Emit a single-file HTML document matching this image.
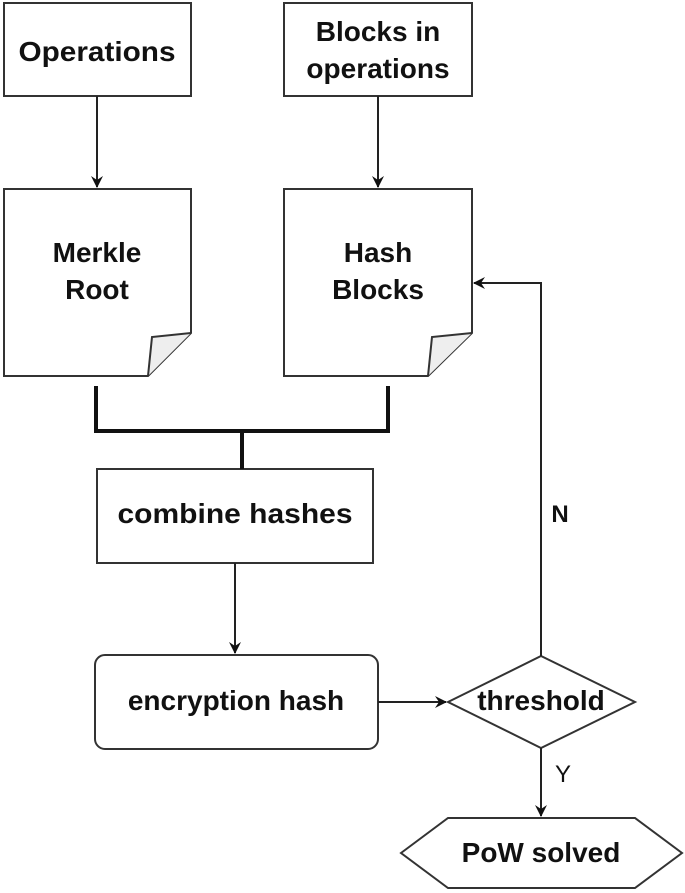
<!DOCTYPE html>
<html><head><meta charset="utf-8"><style>
html,body{margin:0;padding:0;background:#fff;}
svg{display:block}
text{font-family:"Liberation Sans",Arial,sans-serif;font-weight:bold;font-size:28px;fill:#111;text-anchor:middle}
</style></head><body>
<svg width="685" height="893" viewBox="0 0 685 893" xmlns="http://www.w3.org/2000/svg">
<defs>
<marker id="ah" markerWidth="12" markerHeight="12" refX="11" refY="6" orient="auto" markerUnits="userSpaceOnUse">
<path d="M0,0 L12,6 L0,12 L4,6 Z" fill="#111"/>
</marker>
</defs>
<g fill="#fff" stroke="#333" stroke-width="2">
<rect x="4" y="3" width="187" height="93"/>
<rect x="284" y="3" width="188" height="93"/>
<path d="M4,189 H191 V333 L148,376 H4 Z"/>
<path d="M148,376 L152,337 L191,333" fill="#eee"/>
<path d="M284,189 H472 V333 L428,376 H284 Z"/>
<path d="M428,376 L432,337 L472,333" fill="#eee"/>
<rect x="97" y="469" width="276" height="94"/>
<rect x="95" y="655" width="283" height="94" rx="10"/>
<path d="M448,702 L541,656 L635,702 L541,748 Z"/>
<path d="M401,853 L448,818 H635 L682,853 L635,888 H448 Z"/>
</g>
<g fill="none" stroke="#222" stroke-width="2">
<line x1="97" y1="96" x2="97" y2="187" marker-end="url(#ah)"/>
<line x1="378" y1="96" x2="378" y2="187" marker-end="url(#ah)"/>
<line x1="235" y1="563" x2="235" y2="653" marker-end="url(#ah)"/>
<line x1="378" y1="702" x2="446" y2="702" marker-end="url(#ah)"/>
<line x1="541" y1="748" x2="541" y2="816" marker-end="url(#ah)"/>
<polyline points="541,656 541,283 474,283" marker-end="url(#ah)"/>
</g>
<g fill="none" stroke="#111" stroke-width="4">
<polyline points="96,386 96,431 388,431 388,386"/>
<line x1="242" y1="431" x2="242" y2="469"/>
</g>
<text x="97" y="61" textLength="157" lengthAdjust="spacingAndGlyphs">Operations</text>
<text x="378" y="41">Blocks in</text>
<text x="378" y="78">operations</text>
<text x="97" y="262">Merkle</text>
<text x="97" y="299">Root</text>
<text x="378" y="262">Hash</text>
<text x="378" y="299">Blocks</text>
<text x="235" y="523" textLength="235" lengthAdjust="spacingAndGlyphs">combine hashes</text>
<text x="236" y="710">encryption hash</text>
<text x="541" y="710">threshold</text>
<text x="541" y="862">PoW solved</text>
<text x="560" y="522" style="font-size:24px">N</text>
<text x="563" y="782" style="font-size:24px;font-weight:normal">Y</text>
</svg>
</body></html>
